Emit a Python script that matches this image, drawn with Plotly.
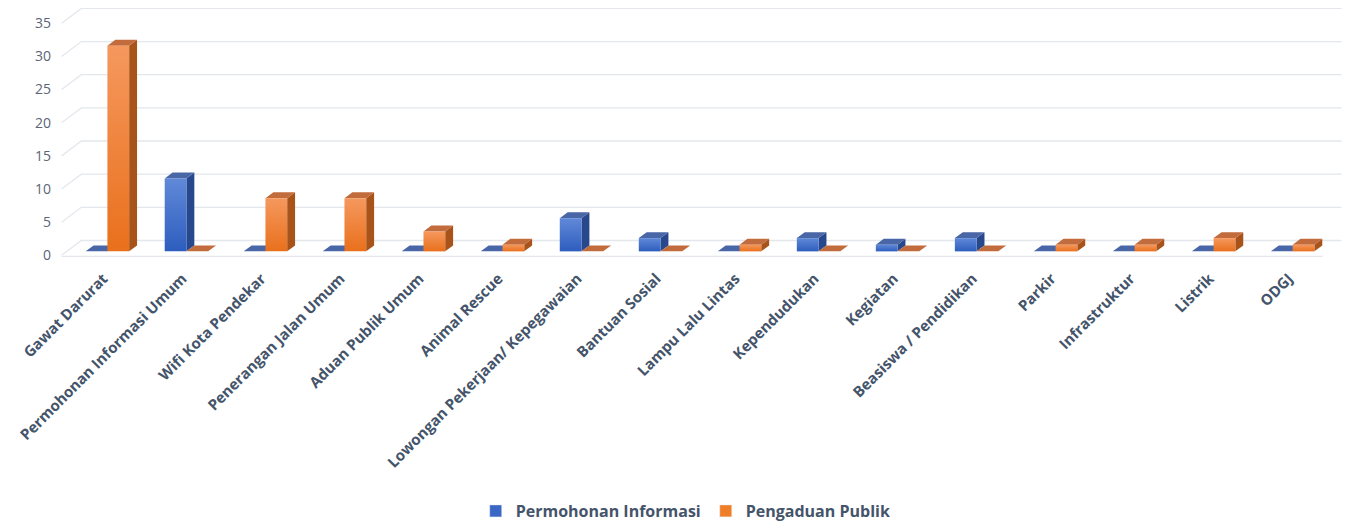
import plotly.graph_objects as go

categories = ["Gawat Darurat", "Permohonan Informasi Umum", "Wifi Kota Pendekar",
              "Penerangan Jalan Umum", "Aduan Publik Umum", "Animal Rescue",
              "Lowongan Pekerjaan/ Kepegawaian", "Bantuan Sosial", "Lampu Lalu Lintas",
              "Kependudukan", "Kegiatan", "Beasiswa / Pendidikan", "Parkir",
              "Infrastruktur", "Listrik", "ODGJ"]
permohonan = [0, 11, 0, 0, 0, 0, 5, 2, 0, 2, 1, 2, 0, 0, 0, 0]
pengaduan = [31, 0, 8, 8, 3, 1, 0, 0, 1, 0, 0, 0, 1, 1, 2, 1]
series_names = ["Permohonan Informasi", "Pengaduan Publik"]
y_ticks = [0, 5, 10, 15, 20, 25, 30, 35]

# styling
BW = 0.275      # bar width (category units)
DX = 0.10       # depth offset x (units)
DY = 0.9        # depth offset y (units)
WALL_DX0, WALL_DX1 = -0.58, -0.33
WALL_DY = 1.64
FRONT_DY = -0.6
styles = [
    dict(front_top="#6189D8", front_bot="#2D5DBE", side="#27488C", top="#4966A6", legend="#3A66C4"),
    dict(front_top="#F5985E", front_bot="#E9701C", side="#A8531A", top="#C26B3C", legend="#F07E26"),
]
grid_col = "#E4E7EC"
text_col = "#44546A"

fig = go.Figure()

# back wall / left wall gridlines
for v in y_ticks:
    fig.add_trace(go.Scatter(x=[WALL_DX0, WALL_DX1, 15.62], y=[v + FRONT_DY, v + WALL_DY, v + WALL_DY],
                             mode="lines", line=dict(color=grid_col, width=1.3),
                             hoverinfo="skip", showlegend=False))
fig.add_trace(go.Scatter(x=[WALL_DX0, 15.38], y=[FRONT_DY - 0.15, FRONT_DY - 0.15], mode="lines",
                         line=dict(color=grid_col, width=1.3), hoverinfo="skip", showlegend=False))

series = [permohonan, pengaduan]
offsets = [-BW / 2, BW / 2]

# side faces
for s, vals in enumerate(series):
    xs, ys = [], []
    for i, v in enumerate(vals):
        if v <= 0:
            continue
        xr = i + offsets[s] + BW / 2
        xs += [xr, xr, xr + DX, xr + DX, xr, None]
        ys += [0, v, v + DY, DY, 0, None]
    fig.add_trace(go.Scatter(x=xs, y=ys, fill="toself", fillcolor=styles[s]["side"], mode="lines",
                             line=dict(width=0), hoverinfo="skip", showlegend=False))

# top faces
for s, vals in enumerate(series):
    xs, ys = [], []
    for i, v in enumerate(vals):
        xl = i + offsets[s] - BW / 2
        xr = xl + BW
        xs += [xl, xr, xr + DX, xl + DX, xl, None]
        ys += [v, v, v + DY, v + DY, v, None]
    fig.add_trace(go.Scatter(x=xs, y=ys, fill="toself", fillcolor=styles[s]["top"], mode="lines",
                             line=dict(width=0), hoverinfo="skip", showlegend=False))

# front faces with vertical gradient
for s, vals in enumerate(series):
    for i, v in enumerate(vals):
        if v <= 0:
            continue
        xl = i + offsets[s] - BW / 2
        xr = xl + BW
        fig.add_trace(go.Scatter(
            x=[xl, xr, xr, xl, xl], y=[0, 0, v, v, 0], fill="toself", mode="lines",
            line=dict(width=0),
            fillgradient=dict(type="vertical",
                              colorscale=[[0, styles[s]["front_bot"]], [1, styles[s]["front_top"]]]),
            hovertemplate=f"{categories[i]}<br>{series_names[s]}: {v}<extra></extra>",
            showlegend=False))

# legend entries
for s in range(2):
    fig.add_trace(go.Bar(x=[None], y=[None], name=series_names[s],
                         marker=dict(color=styles[s]["legend"]), showlegend=True))

fig.update_layout(
    width=1342, height=518,
    margin=dict(l=52, r=6, t=0, b=268),
    plot_bgcolor="white", paper_bgcolor="white",
    font=dict(family="Open Sans", color=text_col),
    showlegend=True,
    legend=dict(orientation="h", xref="container", yref="container", x=0.505, xanchor="center",
                y=0.029, yanchor="middle", font=dict(size=16, color=text_col, weight="bold"),
                itemwidth=30, traceorder="normal"),
    xaxis=dict(type="linear", range=[-0.6, 15.65], tickmode="array",
               tickvals=list(range(len(categories))), ticktext=categories, tickangle=-45,
               showgrid=False, zeroline=False, showline=False, ticks="",
               tickfont=dict(size=15, color=text_col, weight="bold"),
               ticklabelstandoff=8, ticklabelshift=-4),
    yaxis=dict(range=[-1.0, 36.7], tickmode="array", tickvals=y_ticks, showgrid=False,
               zeroline=False, showline=False, ticks="", ticklabelshift=4,
               ticklabelstandoff=8, tickfont=dict(size=14, color="#5B6577")),
)

fig.write_html("out.html")
